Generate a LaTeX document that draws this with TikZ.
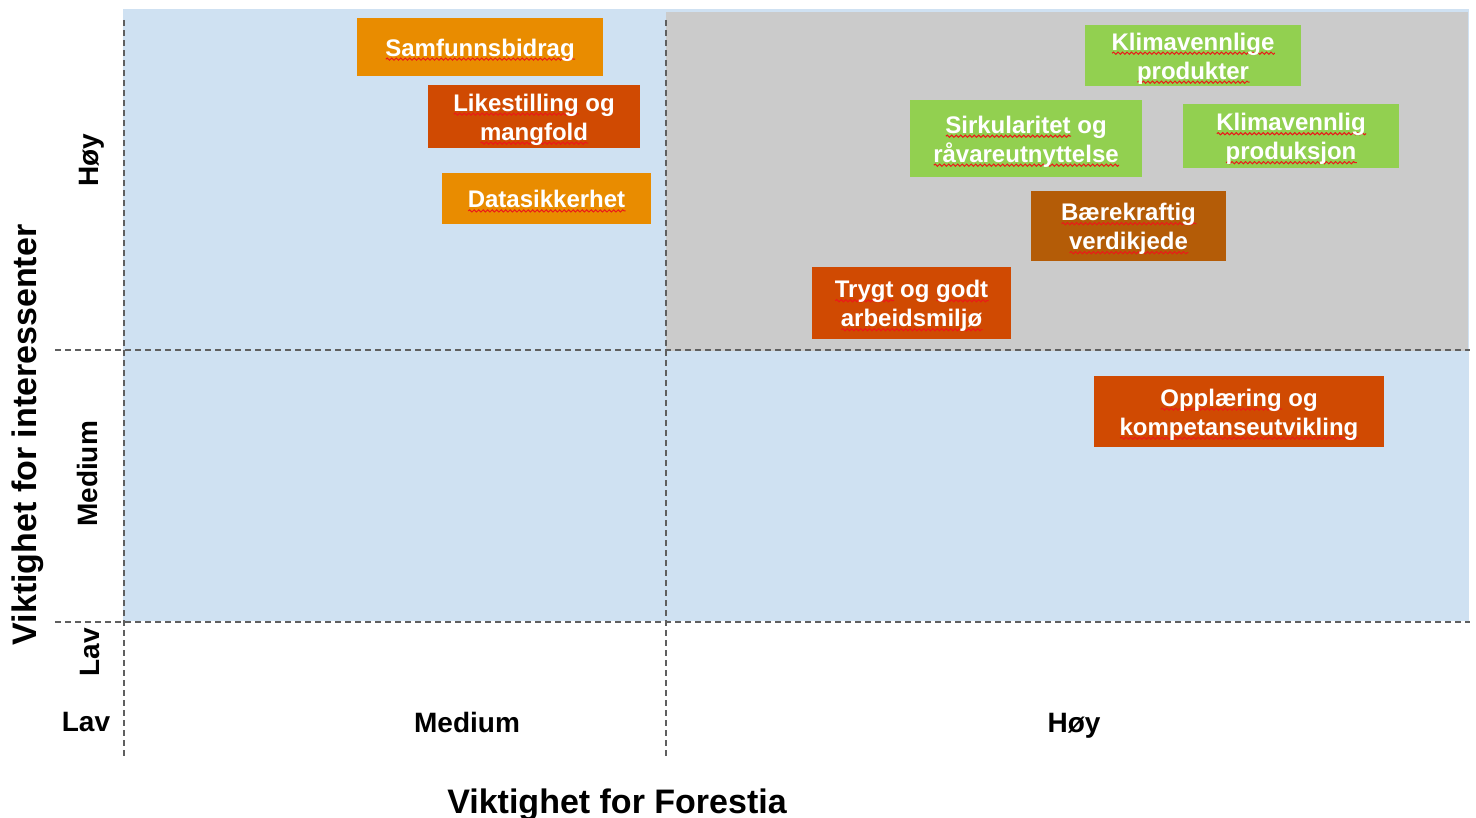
\documentclass[tikz,border=0pt]{standalone}
\usepackage{fontspec}
\setmainfont{Liberation Sans}
\usetikzlibrary{decorations.pathmorphing}
\definecolor{bgblue}{RGB}{207,225,242}
\definecolor{bggray}{RGB}{203,203,203}
\definecolor{cOrange}{RGB}{233,140,0}
\definecolor{cRed}{RGB}{208,74,2}
\definecolor{cBrown}{RGB}{180,92,7}
\definecolor{cGreen}{RGB}{146,208,80}
\definecolor{gridc}{RGB}{95,95,95}
\definecolor{waveRed}{RGB}{235,25,25}
\newsavebox\wavebox
\newcommand\sqw[1]{\sbox\wavebox{#1}\rlap{\tikz[baseline=0pt]\path[draw=waveRed, fill=none, line width=1pt, decorate, decoration={snake, amplitude=1.1pt, segment length=4.5pt}] (0pt,-3pt) -- (\wd\wavebox,-3pt);}\usebox\wavebox}
\newcommand\dn[1]{\raisebox{-3pt}[\height][\depth]{#1}}
\tikzset{
  item/.style={inner sep=0pt, align=center, text=white,
    font=\fontsize{24}{29}\selectfont\bfseries},
  grid/.style={draw=gridc, line width=1.8pt, dash pattern=on 6pt off 4pt},
  tick/.style={font=\fontsize{28}{32}\selectfont\bfseries, text=black, inner sep=0pt, anchor=base},
  title/.style={font=\fontsize{34}{38}\selectfont\bfseries, text=black, inner sep=0pt, anchor=base}
}
\begin{document}
\begin{tikzpicture}[x=1pt,y=-1pt]
\useasboundingbox (0,0) rectangle (1476,818);
% backgrounds
\fill[bgblue] (123,9) rectangle (1469,621);
\fill[bggray] (666,12) rectangle (1468,351);
% grid lines
\draw[grid] (124,20) -- (124,757);
\draw[grid] (666,20) -- (666,757);
\draw[grid] (55,350) -- (1470,350);
\draw[grid] (55,622) -- (1470,622);
% items
\node[item, fill=cOrange, minimum width=246pt, minimum height=58pt] (samf) at (480,47) {\dn{\sqw{Samfunnsbidrag}}};
\node[item, fill=cRed, minimum width=212pt, minimum height=63pt] (like) at (534,116.5) {\dn{\sqw{Likestilling} og}\\\dn{\sqw{mangfold}}};
\node[item, fill=cOrange, minimum width=209pt, minimum height=51pt] (data) at (546.5,198.5) {\dn{\sqw{Datasikkerhet}}};
\node[item, fill=cGreen, minimum width=216pt, minimum height=61pt] (kprod) at (1193,55.5) {\dn{\sqw{Klimavennlige}}\\\dn{\sqw{produkter}}};
\node[item, fill=cGreen, minimum width=232pt, minimum height=77pt] (sirk) at (1026,138.5) {\dn{\sqw{Sirkularitet} og}\\\dn{\sqw{råvareutnyttelse}}};
\node[item, fill=cGreen, minimum width=216pt, minimum height=64pt] (kpro) at (1291,136) {\dn{\sqw{Klimavennlig}}\\\dn{\sqw{produksjon}}};
\node[item, fill=cBrown, minimum width=195pt, minimum height=70pt] (baer) at (1128.5,226) {\dn{\sqw{Bærekraftig}}\\\dn{\sqw{verdikjede}}};
\node[item, fill=cRed, minimum width=199pt, minimum height=72pt] (tryg) at (911.5,303) {\dn{\sqw{Trygt} og \sqw{godt}}\\\dn{\sqw{arbeidsmiljø}}};
\node[item, fill=cRed, minimum width=290pt, minimum height=71pt] (oppl) at (1239,411.5) {\dn{\sqw{Opplæring} og}\\\dn{\sqw{kompetanseutvikling}}};
% tick labels
\node[tick, rotate=90] (yh) at (98,160) {Høy};
\node[tick, rotate=90] (ym) at (97,474) {Medium};
\node[tick, rotate=90] (yl) at (99,652) {Lav};
\node[tick] (xl) at (86,731) {Lav};
\node[tick] (xm) at (467,732) {Medium};
\node[tick] (xh) at (1074,732) {Høy};
% titles
\node[title] (xt) at (617,813) {Viktighet for Forestia};
\node[title, rotate=90] (yt) at (36,435) {Viktighet for interessenter};
\end{tikzpicture}
\end{document}
